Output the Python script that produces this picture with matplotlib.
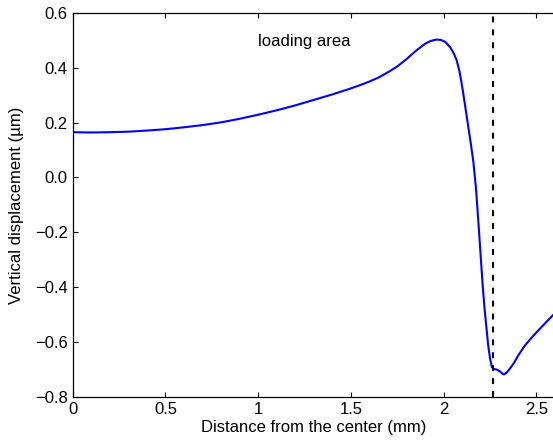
import matplotlib
matplotlib.use("Agg")
import matplotlib.pyplot as plt

plt.rcParams['font.family'] = ['Liberation Sans', 'DejaVu Sans']
plt.rcParams['lines.scale_dashes'] = False

# radial distance (mm) and vertical displacement (um)
dist = [0.0, 0.1, 0.2, 0.3, 0.4, 0.5, 0.6, 0.7, 0.8, 0.9, 1.0, 1.1, 1.2, 1.3,
        1.4, 1.5, 1.55, 1.6, 1.65, 1.7, 1.75, 1.8, 1.85, 1.9, 1.93, 1.96,
        1.985, 2.01, 2.035, 2.055, 2.07, 2.085, 2.1, 2.115, 2.13, 2.145,
        2.16, 2.175, 2.19, 2.2, 2.21, 2.22, 2.23, 2.24, 2.25, 2.26, 2.27,
        2.285, 2.3, 2.315, 2.325, 2.34, 2.36, 2.38, 2.4, 2.435, 2.47, 2.505,
        2.55, 2.6]
disp = [0.165, 0.164, 0.165, 0.167, 0.171, 0.176, 0.183, 0.191, 0.201,
        0.214, 0.229, 0.245, 0.263, 0.283, 0.303, 0.325, 0.337, 0.350,
        0.365, 0.384, 0.405, 0.432, 0.462, 0.488, 0.498, 0.503, 0.502,
        0.494, 0.475, 0.452, 0.428, 0.388, 0.331, 0.265, 0.197, 0.130,
        0.058, -0.045, -0.190, -0.290, -0.390, -0.475, -0.544, -0.612,
        -0.660, -0.692, -0.699, -0.701, -0.706, -0.715, -0.719, -0.712,
        -0.695, -0.676, -0.652, -0.616, -0.588, -0.562, -0.530, -0.495]

x_ticks = [0, 0.5, 1, 1.5, 2, 2.5]
x_tick_labels = ['0', '0.5', '1', '1.5', '2', '2.5']
y_ticks = [-0.8, -0.6, -0.4, -0.2, 0.0, 0.2, 0.4, 0.6]
y_tick_labels = ['\u22120.8', '\u22120.6', '\u22120.4', '\u22120.2', '0.0',
                 '0.2', '0.4', '0.6']
edge_x = 2.264

fig = plt.figure(figsize=(5.53, 4.41), dpi=100)
ax = fig.add_axes([0.1315, 0.1005, 0.872, 0.870])

ax.plot(dist, disp, color='#0000ff', lw=1.5)
ax.axvline(edge_x, color='black', lw=1.5, dashes=(4.3, 5.0))
ax.text(1.0, 0.495, 'loading area', fontsize=12, ha='left', va='center')

ax.set_xlim(0, 2.6)
ax.set_ylim(-0.8, 0.6)
ax.set_xticks(x_ticks)
ax.set_xticklabels(x_tick_labels)
ax.set_yticks(y_ticks)
ax.set_yticklabels(y_tick_labels)
ax.tick_params(direction='in', length=3.5, width=0.8, labelsize=12,
               top=True, right=False)
ax.tick_params(axis='x', pad=4)
ax.tick_params(axis='y', pad=3.5)
ax.spines['right'].set_visible(False)
for s in ['left', 'top', 'bottom']:
    ax.spines[s].set_linewidth(0.9)

ax.set_xlabel('Distance from the center (mm)', fontsize=12)
ax.set_ylabel('Vertical displacement (\u00b5m)', fontsize=12)
ax.xaxis.set_label_coords(0.5, -0.062)
ax.yaxis.set_label_coords(-0.102, 0.5)

fig.savefig('out.png', dpi=100)
